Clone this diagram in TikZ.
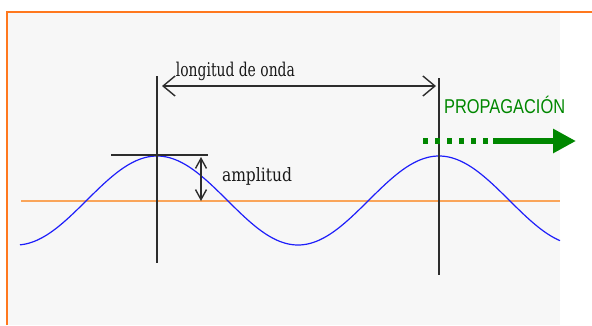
\documentclass[tikz,border=0pt]{standalone}
\usepackage{fontspec}
\usepackage{graphicx}
\newfontfamily\arialfont{Liberation Sans}
\newfontfamily\serffont{DejaVu Serif}
\usetikzlibrary{arrows.meta}
\definecolor{bggray}{RGB}{247,247,247}
\definecolor{frameorange}{RGB}{255,120,30}
\definecolor{baseorange}{RGB}{250,165,90}
\definecolor{waveblue}{RGB}{30,30,250}
\definecolor{linegray}{RGB}{45,45,45}
\definecolor{propgreen}{RGB}{0,135,0}
\tikzset{
  guide/.style={draw=linegray, line width=2pt},
  wlarrow/.style={draw=linegray, line width=1.4pt, {Straight Barb[length=12pt,width=20pt]}-{Straight Barb[length=12pt,width=20pt]}},
  amparrow/.style={draw=linegray, line width=1.4pt, {Straight Barb[length=10pt,width=11pt]}-{Straight Barb[length=10pt,width=11pt]}},
  lbl/.style={inner sep=0pt, anchor=base, text=black!90},
}
\begin{document}
\begin{tikzpicture}[x=1pt,y=-1pt]
\useasboundingbox (0,0) rectangle (592,325);
% background and frame
\fill[bggray] (7,12) rectangle (560,325);
\draw[frameorange, line width=2pt] (7,325) -- (7,11.7) -- (560,11.7);
\draw[frameorange, line width=2pt] (560,12.2) -- (592,12.2);
% coordinates
\coordinate (v1t) at (157,76);
\coordinate (v1b) at (157,263);
\coordinate (v2t) at (439,78);
\coordinate (v2b) at (439,275);
\coordinate (la) at (162,86);
\coordinate (lb) at (436,86);
\coordinate (pk1) at (111,155);
\coordinate (pk2) at (208,155);
\coordinate (aa) at (201,157);
\coordinate (ab) at (201,201);
\coordinate (b1) at (21,201);
\coordinate (b2) at (560,201);
\coordinate (g1) at (423,141);
\coordinate (g2) at (493,141);
\coordinate (g3) at (576,141);
% baseline
\draw[baseorange, line width=2pt] (b1) -- (b2);
% wave
\draw[waveblue, line width=1.2pt] plot[domain=20:560, samples=220] (\x, {200.5-44.5*cos(1.276596*(\x-157))});
% guides
\draw[guide] (v1t) -- (v1b);
\draw[guide] (v2t) -- (v2b);
\draw[draw=linegray, line width=1.2pt] (pk1) -- (pk2);
\draw[wlarrow] (la) -- (lb);
\draw[amparrow] (aa) -- (ab);
% labels
\node[lbl] (wl) at (235.4,76.7) {\resizebox{119pt}{14.4pt}{\serffont\fontsize{19}{21}\selectfont longitud de onda}};
\node[lbl] (amp) at (257,181) {\resizebox{70pt}{14pt}{\serffont\fontsize{19}{21}\selectfont amplitud}};
\node[inner sep=0pt, anchor=base west, text=propgreen] (prop) at (444,113.3) {\scalebox{0.82}[1]{\arialfont\fontsize{20}{22}\selectfont PROPAGACIÓN}};
% propagation arrow
\draw[propgreen, line width=6pt, dash pattern=on 5pt off 7pt] (g1) -- (g2);
\draw[propgreen, line width=6pt, -{Triangle[length=23pt,width=23pt]}] (g2) -- (g3);
\end{tikzpicture}
\end{document}
